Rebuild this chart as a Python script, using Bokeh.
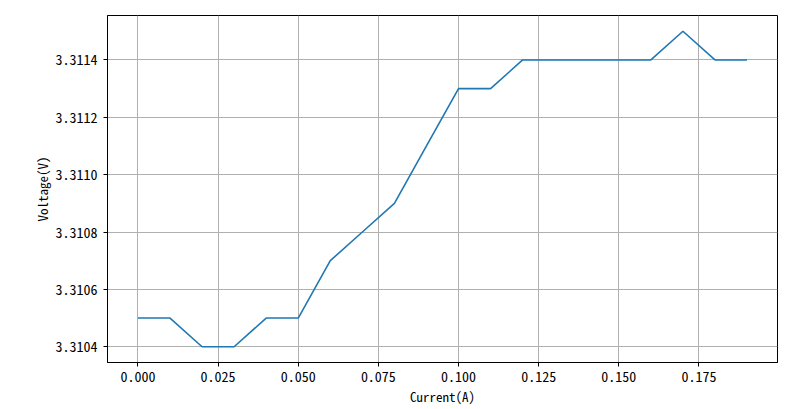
from bokeh.plotting import figure
from bokeh.embed import file_html
from bokeh.resources import INLINE
from bokeh.models import Range1d, FixedTicker, CustomJSTickFormatter

current = [0.00, 0.01, 0.02, 0.03, 0.04, 0.05, 0.06, 0.07, 0.08, 0.09,
           0.10, 0.11, 0.12, 0.13, 0.14, 0.15, 0.16, 0.17, 0.18, 0.19]
voltage = [3.3105, 3.3105, 3.3104, 3.3104, 3.3105, 3.3105, 3.3107, 3.3108, 3.3109, 3.3111,
           3.3113, 3.3113, 3.3114, 3.3114, 3.3114, 3.3114, 3.3114, 3.3115, 3.3114, 3.3114]
x_ticks = [0.000, 0.025, 0.050, 0.075, 0.100, 0.125, 0.150, 0.175]
y_ticks = [3.3104, 3.3106, 3.3108, 3.3110, 3.3112, 3.3114]

FONT = "Noto Sans Mono CJK SC, Noto Sans CJK SC, monospace"

p = figure(width=800, height=409, output_backend="svg", toolbar_location=None,
           min_border_left=107, min_border_top=15, min_border_right=23, min_border_bottom=47)
p.x_range = Range1d(-0.0095, 0.1995)
p.y_range = Range1d(3.310345, 3.311555)

p.line(current, voltage, line_color="#1f77b4", line_width=1.6)

p.xaxis.ticker = FixedTicker(ticks=x_ticks)
p.yaxis.ticker = FixedTicker(ticks=y_ticks)
p.xaxis.formatter = CustomJSTickFormatter(code="return tick.toFixed(3);")
p.yaxis.formatter = CustomJSTickFormatter(code="return tick.toFixed(4);")
p.xaxis.axis_label = "Current(A)"
p.yaxis.axis_label = "Voltage(V)"

for ax in (p.xaxis[0], p.yaxis[0]):
    ax.axis_line_color = "black"
    ax.major_tick_line_color = "black"
    ax.major_tick_out = 4
    ax.major_tick_in = 0
    ax.minor_tick_line_color = None
    ax.major_label_text_font = FONT
    ax.major_label_text_font_size = "14px"
    ax.major_label_text_color = "black"
    ax.axis_label_text_font = FONT
    ax.axis_label_text_font_size = "13px"
    ax.axis_label_text_font_style = "normal"
    ax.axis_label_text_color = "black"

p.xaxis.major_label_standoff = 4
p.xaxis.axis_label_standoff = 2
p.yaxis.major_label_standoff = 6
p.yaxis.axis_label_standoff = 1

p.grid.grid_line_color = "#b0b0b0"
p.grid.grid_line_alpha = 1.0
p.grid.grid_line_width = 1
p.outline_line_color = "black"
p.outline_line_alpha = 1.0
p.background_fill_color = "white"
p.border_fill_color = "white"

open("out.html", "w").write(file_html(p, INLINE))
